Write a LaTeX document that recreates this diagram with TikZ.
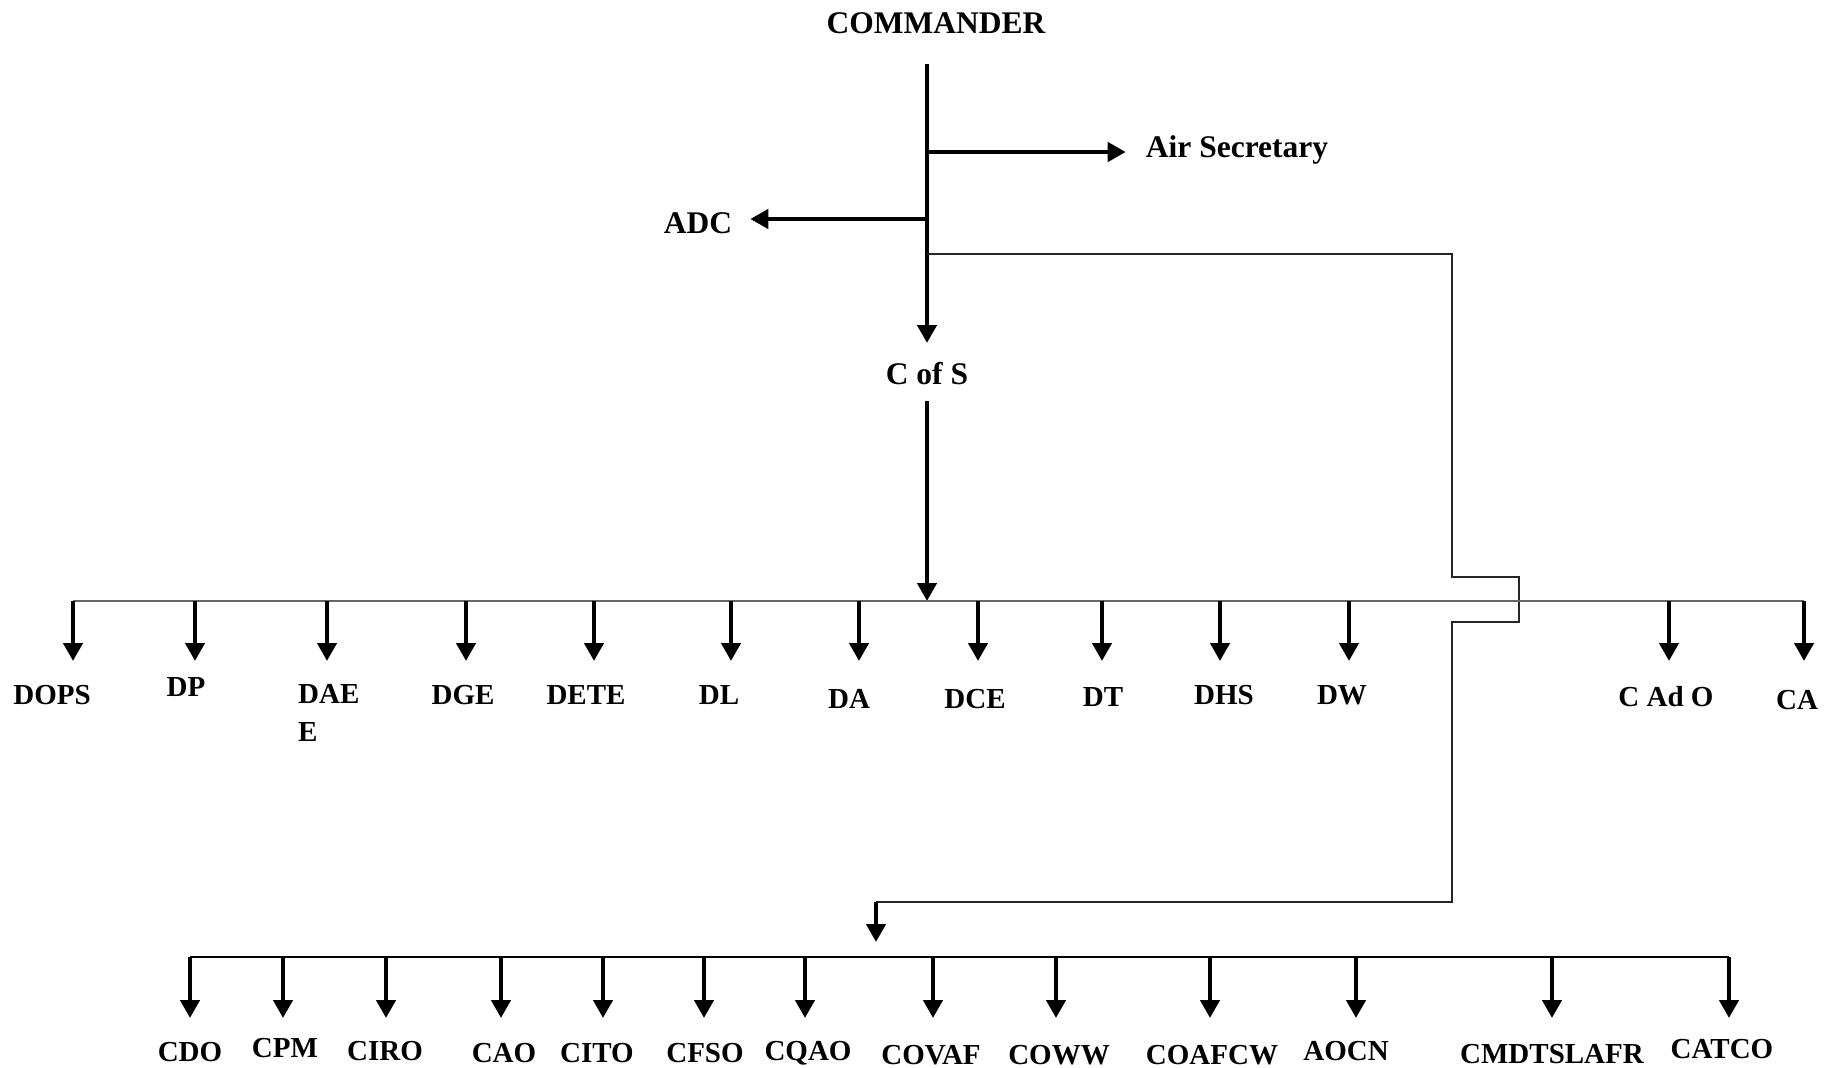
\documentclass[tikz,border=0pt]{standalone}
\usepackage{fontspec}
\setmainfont{Liberation Serif}
\usetikzlibrary{arrows.meta}
\begin{document}
\begin{tikzpicture}[x=1pt,y=-1pt,
  big/.style={font=\fontsize{31.5}{36}\selectfont\bfseries, inner sep=0pt, anchor=base},
  lab/.style={font=\fontsize{29}{38}\selectfont\bfseries, inner sep=0pt, anchor=base},
  thickarr/.style={line width=4.4pt, -{Triangle[width=19pt,length=18pt]}},
  busarr/.style={line width=4.4pt, -{Triangle[width=19pt,length=18pt]}},
  busline/.style={line width=2pt, draw=black!60},
  thinline/.style={line width=1.6pt, draw=black!85},
]
\useasboundingbox (0,0) rectangle (1824,1068);

% top part
\node[big] (cmd) at (936,34) {COMMANDER};
\node[big] (airsec) at (1237,157) {Air Secretary};
\node[big] (adc) at (698,233) {ADC};
\node[big] (cos) at (927,384) {C of S};

\coordinate (top) at (927,64);
\coordinate (jair) at (927,152);
\coordinate (jadc) at (927,219);
\coordinate (jlink) at (927,254);
\coordinate (costip) at (927,343);
\coordinate (cosout) at (927,401);
\coordinate (busone) at (927,601);

\draw[thickarr, line width=4.8pt] (top) -- (costip);
\draw[thickarr, shorten >=20pt] (jair) -- (jair -| airsec.west);
\draw[thickarr, shorten >=18pt] (jadc) -- (jadc -| adc.east);
\draw[thickarr] (cosout) -- (busone);

% link to second level
\coordinate (k1) at (1452,254);
\coordinate (k2) at (1452,577);
\coordinate (k3) at (1519,577);
\coordinate (k4) at (1519,622);
\coordinate (k5) at (1452,622);
\coordinate (k6) at (1452,902);
\coordinate (k7) at (876,902);
\coordinate (k8) at (876,942);
\draw[thinline] (jlink) -- (k1) -- (k2) -- (k3) -- (k4) -- (k5) -- (k6) -- (k7);
\draw[thickarr] (k7) -- (k8);

% first bus
\coordinate (b1l) at (73,601);
\coordinate (b1r) at (1804,601);
\draw[busline] (b1l) -- (b1r);
\foreach \x/\nm in {73/a1,195/a2,327/a3,466/a4,594/a5,731/a6,859/a7,978/a8,1102/a9,1220/a10,1349/a11,1669/a12,1804/a13}{
  \coordinate (\nm) at (\x,601);
  \draw[busarr] (\nm) -- ++(0,60);
}
\node[lab] (dops) at (52,704) {DOPS};
\node[lab] (dp) at (186,696) {DP};
\node[lab, align=left, anchor=base west] (daee) at (298,741) {DAE\\E};
\node[lab] (dge) at (463,704) {DGE};
\node[lab] (dete) at (586,704) {DETE};
\node[lab] (dl) at (719,704) {DL};
\node[lab] (da) at (849,708) {DA};
\node[lab] (dce) at (975,708) {DCE};
\node[lab] (dt) at (1103,706) {DT};
\node[lab] (dhs) at (1224,704) {DHS};
\node[lab] (dw) at (1342,704) {DW};
\node[lab] (cado) at (1666,706) {C Ad O};
\node[lab] (ca) at (1797,709) {CA};

% second bus
\coordinate (b2l) at (190,957);
\coordinate (b2r) at (1729,957);
\draw[line width=2pt] (b2l) -- (b2r);
\foreach \x/\nm in {190/c1,283/c2,386/c3,501/c4,603/c5,704/c6,805/c7,933/c8,1056/c9,1210/c10,1356/c11,1552/c12,1729/c13}{
  \coordinate (\nm) at (\x,957);
  \draw[busarr] (\nm) -- ++(0,61);
}
\node[lab] (cdo) at (190,1061) {CDO};
\node[lab] (cpm) at (285,1057) {CPM};
\node[lab] (ciro) at (385,1060) {CIRO};
\node[lab] (cao) at (504,1062) {CAO};
\node[lab] (cito) at (597,1062) {CITO};
\node[lab] (cfso) at (705,1062) {CFSO};
\node[lab] (cqao) at (808,1060) {CQAO};
\node[lab] (covaf) at (931,1064) {COVAF};
\node[lab] (coww) at (1059,1064) {COWW};
\node[lab] (coafcw) at (1212,1064) {COAFCW};
\node[lab] (aocn) at (1346,1060) {AOCN};
\node[lab] (cmdt) at (1552,1063) {CMDTSLAFR};
\node[lab] (catco) at (1722,1058) {CATCO};
\end{tikzpicture}
\end{document}
